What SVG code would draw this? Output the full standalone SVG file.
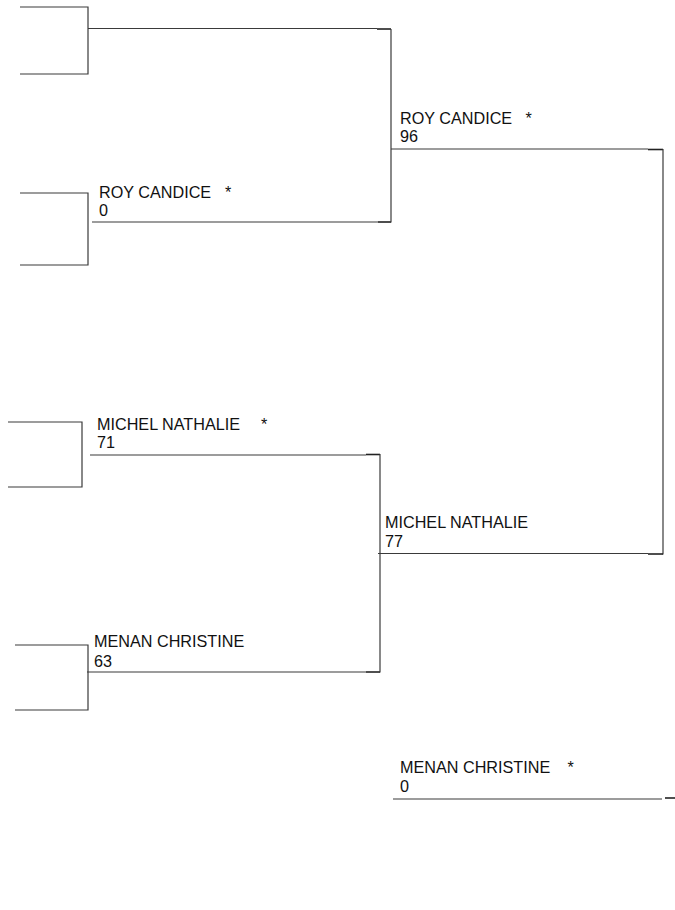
<svg xmlns="http://www.w3.org/2000/svg" width="675" height="910" viewBox="0 0 675 910">
<style>
.ln{fill:none;stroke:#3a3a3a;stroke-width:1.2}
.tk{fill:none;stroke:#222;stroke-width:1.6}
text{font-family:"Liberation Sans",Arial,sans-serif;font-size:16.2px;fill:#111}
</style>
<rect width="675" height="910" fill="#fff"/>
<g id="connectors">
<polyline class="ln" points="20,7 88,7 88,74 20,74"/>
<polyline class="ln" points="20,193 88,193 88,265 20,265"/>
<polyline class="ln" points="8,422 82,422 82,487 8,487"/>
<polyline class="ln" points="15,645 88,645 88,710 15,710"/>
<line class="ln" x1="88" y1="28.5" x2="377" y2="28.5"/>
<line class="tk" x1="377" y1="29" x2="391" y2="29"/>
<line class="ln" x1="92" y1="222" x2="378" y2="222"/>
<line class="tk" x1="378" y1="222" x2="391" y2="222"/>
<line class="ln" x1="391" y1="29" x2="391" y2="222.5"/>
<line class="ln" x1="391" y1="149" x2="648" y2="149"/>
<line class="tk" x1="648" y1="149.5" x2="663" y2="149.5"/>
<line class="ln" x1="663" y1="149" x2="663" y2="554.5"/>
<line class="ln" x1="90" y1="455" x2="366" y2="455"/>
<line class="tk" x1="366" y1="454.5" x2="380" y2="454.5"/>
<line class="ln" x1="87" y1="672" x2="366" y2="672"/>
<line class="tk" x1="366" y1="672" x2="380" y2="672"/>
<line class="ln" x1="380" y1="454" x2="380" y2="672.5"/>
<line class="ln" x1="378" y1="553.5" x2="648" y2="553.5"/>
<line class="tk" x1="648" y1="554" x2="663" y2="554"/>
<line class="ln" x1="393" y1="799" x2="662" y2="799"/>
<line class="tk" x1="665" y1="798" x2="675" y2="798"/>
</g>
<g id="n-roy-r1">
<text x="99" y="197.5">ROY CANDICE</text><text x="225" y="197.5">*</text>
<text x="99" y="216.3">0</text>
</g>
<g id="n-roy-r2">
<text x="400" y="124">ROY CANDICE</text><text x="525.5" y="124">*</text>
<text x="400" y="142.3">96</text>
</g>
<g id="n-michel-r1">
<text x="97" y="430">MICHEL NATHALIE</text><text x="261" y="430">*</text>
<text x="97" y="448.3">71</text>
</g>
<g id="n-menan-r1">
<text x="94" y="647.3">MENAN CHRISTINE</text>
<text x="94" y="666.7">63</text>
</g>
<g id="n-michel-r2">
<text x="385" y="528.3">MICHEL NATHALIE</text>
<text x="385" y="547.3">77</text>
</g>
<g id="n-menan-bye">
<text x="400" y="773">MENAN CHRISTINE</text><text x="567.5" y="773">*</text>
<text x="400" y="792.3">0</text>
</g>
</svg>
